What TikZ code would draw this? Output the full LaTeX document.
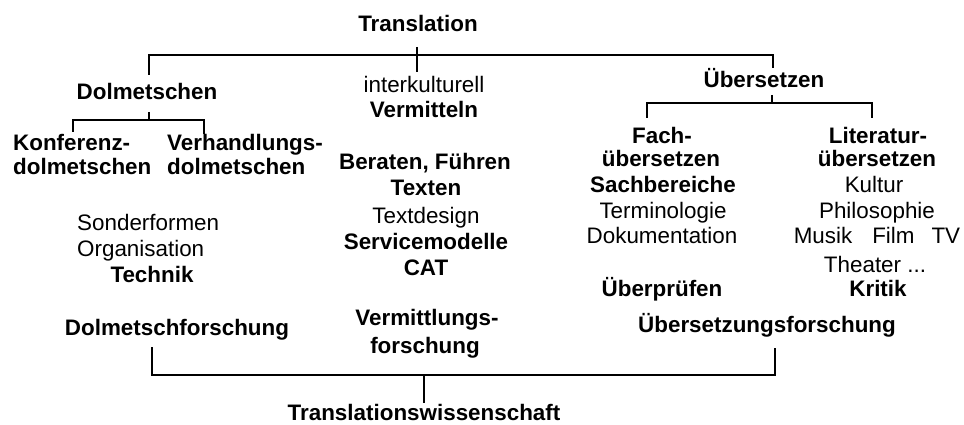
\documentclass[tikz,border=0pt]{standalone}
\usepackage{fontspec}
\setmainfont{Liberation Sans}
\begin{document}
\begin{tikzpicture}[x=1pt,y=-1pt,
  txt/.style={anchor=base,inner sep=0pt,font=\fontsize{22.4}{26}\selectfont},
  bld/.style={anchor=base,inner sep=0pt,font=\fontsize{22.4}{26}\selectfont\bfseries},
  conn/.style={line width=1.2pt,line join=miter}]
\path[use as bounding box,fill=white] (0,0) rectangle (964,425);
% top level
\node[bld] (trans) at (418,32) {Translation};
\node[bld] (dolm) at (147,100) {Dolmetschen};
\node[txt] (inter) at (424,93) {interkulturell};
\node[bld] (verm) at (424,118) {Vermitteln};
\node[bld] (ueb) at (764,88) {Übersetzen};
% Dolmetschen branch
\node[bld,anchor=base west] (konf1) at (13,150) {Konferenz-};
\node[bld,anchor=base west] (konf2) at (13,175) {dolmetschen};
\node[bld,anchor=base west] (verh1) at (167,150) {Verhandlungs-};
\node[bld,anchor=base west] (verh2) at (167,175) {dolmetschen};
\node[txt,anchor=base west] (sond) at (77,230) {Sonderformen};
\node[txt,anchor=base west] (orga) at (77,256) {Organisation};
\node[bld] (tech) at (152,282) {Technik};
\node[bld] (dfor) at (177,335) {Dolmetschforschung};
% middle column
\node[bld] (bera) at (425,170) {Beraten, Führen};
\node[bld] (text) at (426,195) {Texten};
\node[txt] (tdes) at (426,223) {Textdesign};
\node[bld] (serv) at (426,249) {Servicemodelle};
\node[bld] (cat) at (426,275) {CAT};
\node[bld] (vfo1) at (427,325) {Vermittlungs-};
\node[bld] (vfo2) at (425,353) {forschung};
% Fachuebersetzen
\node[bld] (fach1) at (662,143) {Fach-};
\node[bld] (fach2) at (661,167) {übersetzen};
\node[bld] (sach) at (663,192) {Sachbereiche};
\node[txt] (term) at (663,218) {Terminologie};
\node[txt] (doku) at (662,243) {Dokumentation};
\node[bld] (uepr) at (662,296) {Überprüfen};
% Literaturuebersetzen
\node[bld] (lit1) at (878,143) {Literatur-};
\node[bld] (lit2) at (877,167) {übersetzen};
\node[txt] (kult) at (874,192) {Kultur};
\node[txt] (phil) at (877,218) {Philosophie};
\node[txt] (musi) at (877,243) {Musik\hspace{20pt}Film\hspace{17pt}TV};
\node[txt] (thea) at (875,272) {Theater ...};
\node[bld] (krit) at (878,296) {Kritik};
\node[bld] (ufor) at (767,332) {Übersetzungsforschung};
% bottom
\node[bld] (tw) at (424,420) {Translationswissenschaft};
% connectors: top bracket
\coordinate (tTop) at (417,47);
\coordinate (tBot) at (417,72);
\coordinate (hL) at (149,55);
\coordinate (hR) at (773,55);
\coordinate (dEnd) at (149,75);
\coordinate (uEnd) at (773,68);
\draw[conn] (dEnd) -- (hL) -- (hR) -- (uEnd);
\draw[conn] (tTop) -- (tBot);
% Dolmetschen sub-bracket
\coordinate (dT) at (149,112);
\coordinate (dM) at (149,120);
\coordinate (dL) at (73,120);
\coordinate (dR) at (204,120);
\coordinate (dLe) at (73,132);
\coordinate (dRe) at (204,134);
\draw[conn] (dT) -- (dM);
\draw[conn] (dLe) -- (dL) -- (dR) -- (dRe);
% Uebersetzen sub-bracket
\coordinate (uT) at (772,95);
\coordinate (uM) at (772,103);
\coordinate (uL) at (647,103);
\coordinate (uR) at (872,103);
\coordinate (uLe) at (647,118);
\coordinate (uRe) at (872,118);
\draw[conn] (uT) -- (uM);
\draw[conn] (uLe) -- (uL) -- (uR) -- (uRe);
% bottom bracket
\coordinate (bLt) at (152,347);
\coordinate (bL) at (152,375);
\coordinate (bR) at (775,375);
\coordinate (bRt) at (775,348);
\coordinate (bM) at (424,375);
\coordinate (bMe) at (424,403);
\draw[conn] (bLt) -- (bL) -- (bR) -- (bRt);
\draw[conn] (bM) -- (bMe);
\end{tikzpicture}
\end{document}
